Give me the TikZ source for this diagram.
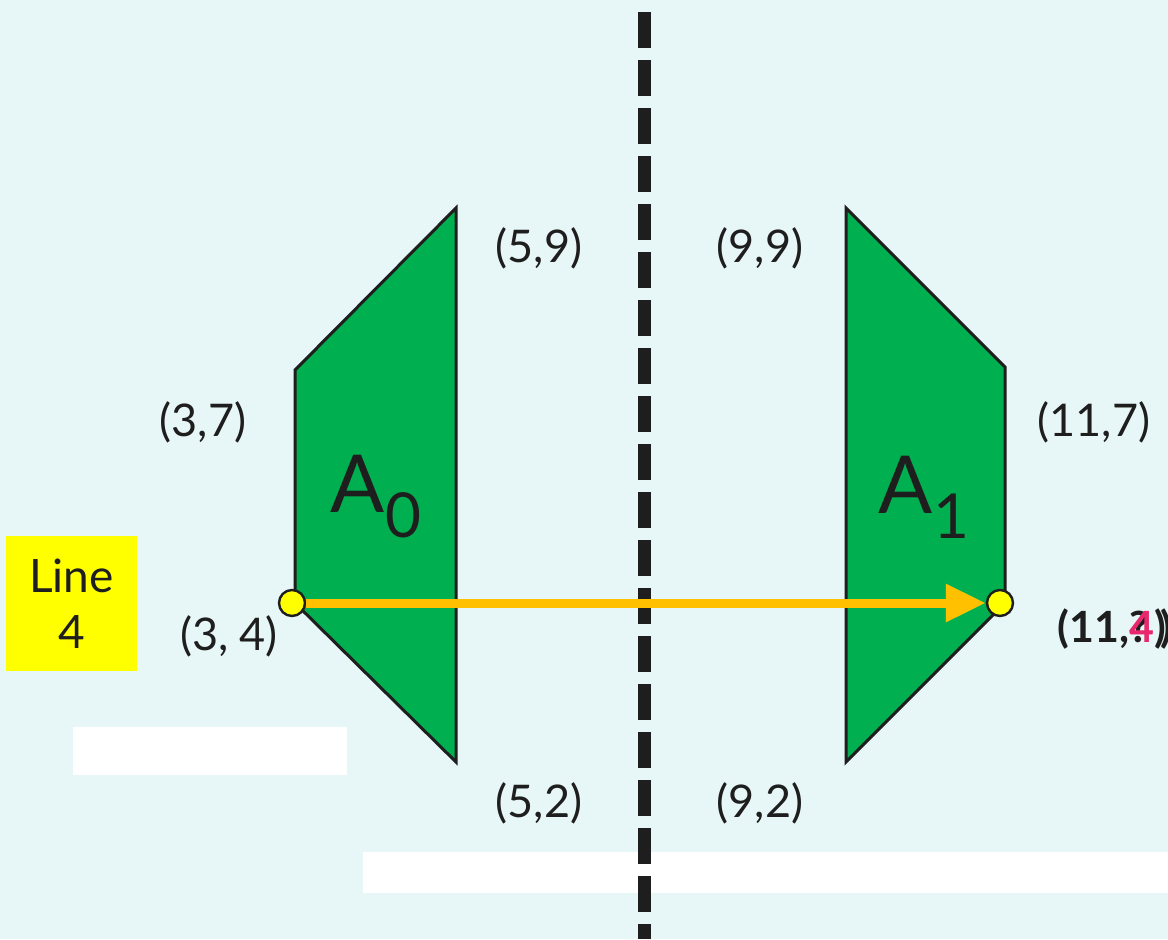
\documentclass[tikz,border=0pt]{standalone}
\usepackage{fontspec}
\setmainfont{Lato}
\usetikzlibrary{arrows.meta}
\definecolor{bgc}{RGB}{231,246,246}
\definecolor{grn}{RGB}{0,176,80}
\definecolor{orng}{RGB}{255,192,0}
\definecolor{ylw}{RGB}{255,255,0}
\definecolor{pinkc}{RGB}{232,40,110}
\definecolor{ink}{RGB}{30,30,30}
\tikzset{
  coordlabel/.style={font=\fontsize{22.5}{26}\selectfont, text=ink, inner sep=0pt},
  shapebody/.style={fill=grn, draw=ink, line width=1.5pt, line join=miter},
  bigletter/.style={font=\fontsize{40}{40}\selectfont, text=ink, inner sep=0pt},
  vertexdot/.style={circle, fill=ylw, draw=ink, line width=1.2pt, minimum size=13pt, inner sep=0pt},
  mirrorline/.style={line width=6.5pt, dash pattern=on 18pt off 6pt, ink},
  movearrow/.style={line width=4.5pt, orng, -{Triangle[length=20pt,width=18pt]}},
  whitebar/.style={fill=white, draw=none}
}
\begin{document}
\begin{tikzpicture}[x=0.5pt,y=-0.5pt]
\fill[bgc] (0,0) rectangle (1168,939);
\useasboundingbox (0,0) rectangle (1168,939);
% white bars
\fill[whitebar] (73,727) rectangle (347,775);
\fill[whitebar] (363,852) rectangle (1168,893);
% mirror line
\draw[mirrorline] (644,12) -- (644,939);
% shapes
\filldraw[shapebody] (295,370) -- (456,208) -- (456,762) -- (295,603) -- cycle;
\filldraw[shapebody] (846,208) -- (1005,367) -- (1005,603) -- (846,762) -- cycle;
% shape names
\node[bigletter] (nameA0) at (376,497) {A\raisebox{-12.5pt}{\fontsize{31}{31}\selectfont 0}};
\node[bigletter] (nameA1) at (924,497) {A\raisebox{-12.5pt}{\fontsize{31}{31}\selectfont 1}};
% vertex labels
\node[coordlabel] (l59) at (539,248) {(5,9)};
\node[coordlabel] (l99) at (760,248) {(9,9)};
\node[coordlabel] (l37) at (203,422) {(3,7)};
\node[coordlabel] (l117) at (1094,422) {(11,7)};
\node[coordlabel] (l34) at (229,636) {(3, 4)};
\node[coordlabel] (l52) at (539,803) {(5,2)};
\node[coordlabel] (l92) at (760,803) {(9,2)};
\node[coordlabel, anchor=west, font=\fontsize{21.5}{26}\selectfont\bfseries] (l114) at (1057,629)
  {(11,\rlap{?}\textcolor{pinkc}{4})\kern-0.12em)};
% line label
\node[fill=ylw, minimum width=65.5pt, minimum height=67.5pt, inner sep=0pt,
      align=center, font=\fontsize{23}{28}\selectfont, text=ink] (linebox) at (71.5,603.5) {Line\\4};
% points and arrow
\node[vertexdot] (p34) at (292,603) {};
\node[vertexdot] (p114) at (1000,603) {};
\draw[movearrow] (p34) -- (p114);
\end{tikzpicture}
\end{document}
